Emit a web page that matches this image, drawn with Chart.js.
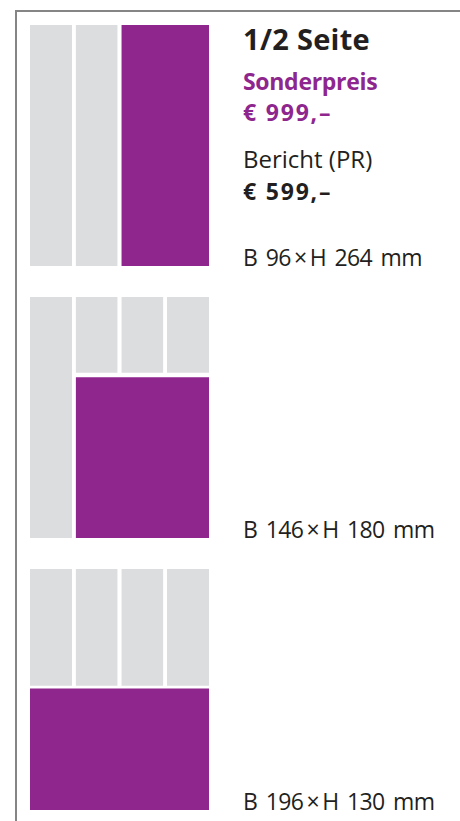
<!DOCTYPE html>
<html lang="de">
<head>
<meta charset="utf-8">
<title>1/2 Seite – Formate</title>
<script src="https://cdn.jsdelivr.net/npm/chart.js@4.4.1/dist/chart.umd.min.js"></script>
<style>
  html, body { margin: 0; padding: 0; background: #fff; }
  body { width: 460px; height: 821px; position: relative; overflow: hidden;
         font-family: "Open Sans", sans-serif; color: #231f20; }
  .rahmen { position: absolute; left: 15px; top: 10px; right: 0; bottom: 0;
            border-top: 2px solid #858585; border-left: 2px solid #858585; }
  canvas { position: absolute; left: 30px; }
  .txt { position: absolute; left: 243px; white-space: nowrap; }
  .titel { font-size: 29px; line-height: 29px; font-weight: 700; letter-spacing: 0.3px; }
  .fett { font-size: 23px; line-height: 23px; font-weight: 700; letter-spacing: -0.3px; }
  .preis { font-size: 23px; line-height: 23px; font-weight: 700; letter-spacing: 1.8px; }
  .lila { color: #8e268e; }
  .normal { font-size: 24px; line-height: 24px; font-weight: 400; }
  .mass { font-size: 23px; line-height: 23px; font-weight: 400; letter-spacing: -0.6px; word-spacing: 3px; }
</style>
</head>
<body>
<div class="rahmen"></div>

<canvas id="seite1" width="179" height="241" style="top:25px"></canvas>
<canvas id="seite2" width="179" height="241" style="top:297px"></canvas>
<canvas id="seite3" width="179" height="241" style="top:569px"></canvas>

<div class="txt titel" style="top:24px">1/2 Seite</div>
<div class="txt fett lila" style="top:70px">Sonderpreis</div>
<div class="txt preis lila" style="top:101px">€ 999,–</div>
<div class="txt normal" style="top:147px">Bericht (PR)</div>
<div class="txt preis" style="top:180px">€ 599,–</div>
<div class="txt mass" id="mass1" style="top:246px"></div>
<div class="txt mass" id="mass2" style="top:518px"></div>
<div class="txt mass" id="mass3" style="top:790px"></div>

<script>
// Seite in mm: 196 breit, 264 hoch, 4 Spalten
var seiteBreite = 196;
var seiteHoehe = 264;
var spalteVon = [0, 50, 100, 150];
var spalteBis = [46, 96, 146, 196];

// graue Spalten je Motiv: [spalte, von mm, bis mm]
var grau1 = [[0, 0, 264], [1, 0, 264]];
var grau2 = [[0, 0, 264], [1, 0, 83], [2, 0, 83], [3, 0, 83]];
var grau3 = [[0, 0, 128], [1, 0, 128], [2, 0, 128], [3, 0, 128]];

// Anzeige je Motiv: [x von, x bis, y von, y bis] in mm
var anzeige1 = [100, 196, 0, 264];
var anzeige2 = [50, 196, 88, 264];
var anzeige3 = [0, 196, 131, 264];

// Beschriftung der Formate
var formate = ['B 96\u2009×\u2009H 264 mm', 'B 146\u2009×\u2009H 180 mm', 'B 196\u2009×\u2009H 130 mm'];

var grauFarbe = '#dcdddf';
var lilaFarbe = '#8e268e';

// ein Rechteck = Linie an der Oberkante, gefuellt bis zur Unterkante
function rechteck(x0, x1, y0, y1, farbe){
  return {
    data: [{x: x0, y: y0}, {x: x1, y: y0}],
    fill: {value: y1},
    backgroundColor: farbe,
    borderColor: 'rgba(0,0,0,0)',
    borderWidth: 0,
    pointRadius: 0,
    tension: 0
  };
}

function zeichneSeite(id, grau, anzeige){
  var datasets = [];
  for (var i = 0; i < grau.length; i++) {
    var g = grau[i];
    datasets.push(rechteck(spalteVon[g[0]], spalteBis[g[0]], g[1], g[2], grauFarbe));
  }
  datasets.push(rechteck(anzeige[0], anzeige[1], anzeige[2], anzeige[3], lilaFarbe));

  var ctx = document.getElementById(id).getContext('2d');
  new Chart(ctx, {
    type: 'line',
    data: { datasets: datasets },
    options: {
      responsive: false,
      animation: false,
      events: [],
      layout: { padding: 0 },
      plugins: { legend: { display: false }, tooltip: { enabled: false } },
      scales: {
        x: { type: 'linear', min: 0, max: seiteBreite, display: false },
        y: { type: 'linear', min: 0, max: seiteHoehe, reverse: true, display: false }
      }
    }
  });
}

zeichneSeite('seite1', grau1, anzeige1);
zeichneSeite('seite2', grau2, anzeige2);
zeichneSeite('seite3', grau3, anzeige3);

for (var i = 0; i < formate.length; i++) {
  document.getElementById('mass' + (i + 1)).textContent = formate[i];
}
</script>
</body>
</html>
